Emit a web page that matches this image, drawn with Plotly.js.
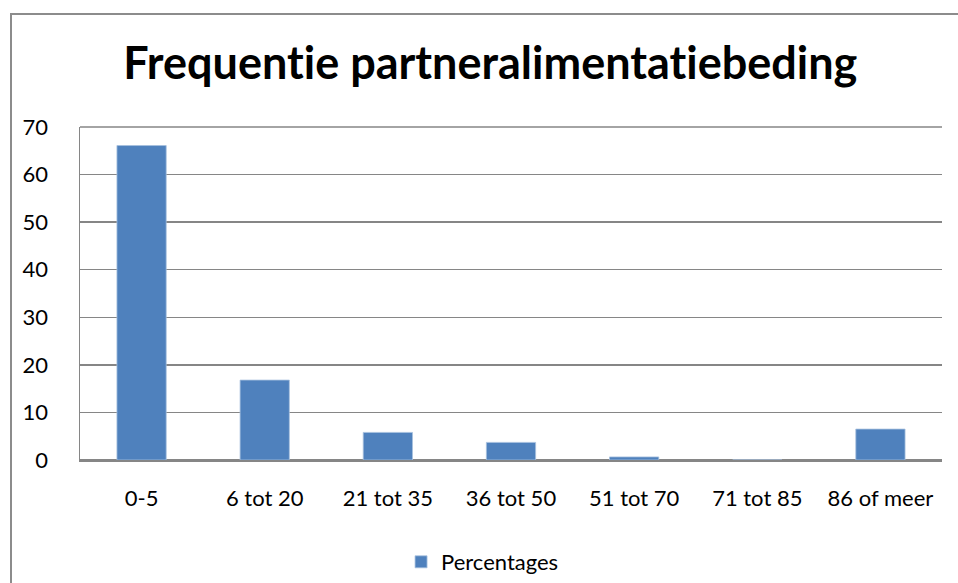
<!DOCTYPE html>
<html>
<head>
<meta charset="utf-8">
<script src="https://cdn.plot.ly/plotly-3.0.1.min.js"></script>
<style>
html,body{margin:0;padding:0;background:#fff;}
#chart{width:958px;height:583px;}
#chart text{font-variant-ligatures:none;font-feature-settings:"liga" 0;}
</style>
</head>
<body>
<div id="chart"></div>
<script>
const categories = ["0-5", "6 tot 20", "21 tot 35", "36 tot 50", "51 tot 70", "71 tot 85", "86 of meer"];
const percentages = [66.1, 16.8, 5.8, 3.7, 0.65, 0, 6.5];
const seriesName = "Percentages";
const yTicks = [0, 10, 20, 30, 40, 50, 60, 70];

const trace = {
  type: "bar",
  x: categories,
  y: percentages,
  name: seriesName,
  marker: {color: "#4F81BD", line: {color: "#A7C0DE", width: 0.8}},
  showlegend: true,
  hoverinfo: "x+y"
};

const layout = {
  width: 958,
  height: 583,
  paper_bgcolor: "#fff",
  plot_bgcolor: "#fff",
  margin: {l: 80, r: 16, t: 127, b: 123},
  font: {family: "Lato, 'Open Sans', sans-serif", size: 22, color: "#000"},
  title: {
    text: "<b>Frequentie partneralimentatiebeding</b>",
    font: {family: "Lato, sans-serif", size: 45, color: "#000"},
    x: 0.476, xanchor: "center", xref: "paper",
    y: 70, yref: "container", yanchor: "middle"
  },
  bargap: 0.6,
  xaxis: {
    type: "category",
    showgrid: false,
    showline: true, linecolor: "#868686", linewidth: 2,
    ticks: "", ticklabelstandoff: 18,
    tickfont: {size: 22},
    fixedrange: true
  },
  yaxis: {
    range: [0, 70],
    tickvals: yTicks,
    showgrid: true, gridcolor: "#868686", gridwidth: 1.5,
    zeroline: true, zerolinecolor: "#868686", zerolinewidth: 2,
    showline: true, linecolor: "#868686", linewidth: 1.5,
    mirror: false,
    ticks: "", ticklabelstandoff: 26,
    tickfont: {size: 22},
    fixedrange: true
  },
  legend: {
    orientation: "h",
    x: 0.467, xanchor: "center",
    y: 551, yref: "container", yanchor: "middle",
    font: {size: 22},
    itemwidth: 30
  },
  shapes: [
    {type: "line", xref: "paper", yref: "paper", x0: 0, x1: 1, y0: 1, y1: 1, line: {color: "#868686", width: 1.5}},
    {type: "rect", xref: "paper", yref: "paper",
     x0: -69/862, x1: 900/862, y0: 1 + 113/333, y1: -200/333,
     line: {color: "#8C8C8C", width: 2}, fillcolor: "rgba(0,0,0,0)", layer: "below"}
  ]
};

Plotly.newPlot("chart", [trace], layout, {displayModeBar: false, staticPlot: true});
</script>
</body>
</html>
